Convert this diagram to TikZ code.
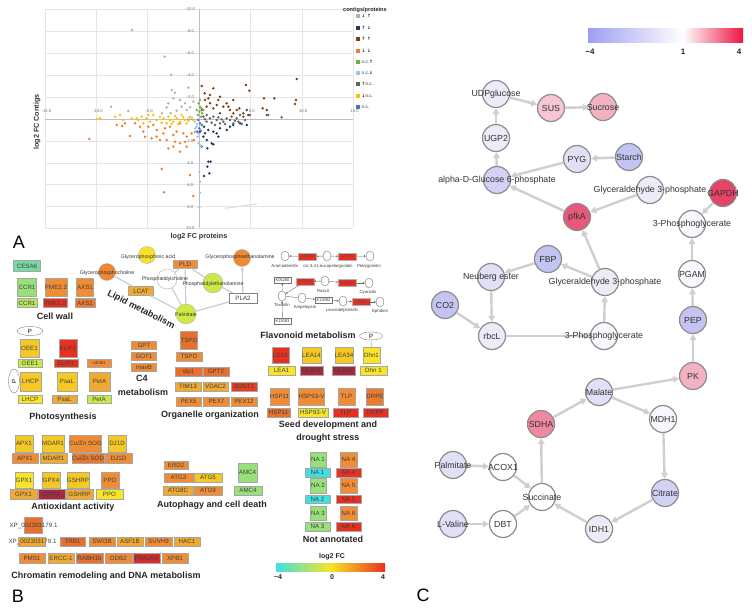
\documentclass[tikz,border=0pt]{standalone}
\usepackage{fontspec}
\setmainfont{Liberation Sans}
\newfontfamily\dvfont{DejaVu Sans}
\usetikzlibrary{arrows.meta,shapes.geometric}
\definecolor{cyanB}{HTML}{40E0E0}
\definecolor{lgreen}{HTML}{98E07A}
\definecolor{mint}{HTML}{78D8A0}
\definecolor{ygreen}{HTML}{C8EA48}
\definecolor{yel}{HTML}{F8E428}
\definecolor{gold}{HTML}{F6C824}
\definecolor{amber}{HTML}{F0AA30}
\definecolor{orng}{HTML}{F08C34}
\definecolor{dorng}{HTML}{E8702C}
\definecolor{redB}{HTML}{E83020}
\definecolor{crim}{HTML}{A82840}
\definecolor{sLgray}{HTML}{B0B0B0}
\definecolor{sNavy}{HTML}{1F3864}
\definecolor{sBrown}{HTML}{843C0C}
\definecolor{sOrange}{HTML}{ED7D31}
\definecolor{sGreen}{HTML}{70AD47}
\definecolor{sLblue}{HTML}{9DC3E6}
\definecolor{sDgray}{HTML}{636363}
\definecolor{sYellow}{HTML}{FFC000}
\definecolor{sBlue}{HTML}{4472C4}
\definecolor{cW}{HTML}{F7F7FD}
\definecolor{cLa}{HTML}{ECECF9}
\definecolor{cLb}{HTML}{E0E0F7}
\definecolor{cLc}{HTML}{D2D2F5}
\definecolor{cB}{HTML}{C4C4F2}
\definecolor{pinkA}{HTML}{F7C6D2}
\definecolor{pinkB}{HTML}{F2B2C2}
\definecolor{pinkC}{HTML}{F0899F}
\definecolor{redC}{HTML}{E8587A}
\definecolor{redD}{HTML}{E64466}
\definecolor{barBlue}{HTML}{9E9EF2}
\definecolor{barRed}{HTML}{EC1442}
\definecolor{edgeC}{HTML}{CFCFCF}
\newcommand\gb[7]{\node[gene,fill=#6,minimum width=#4pt,minimum height=#5pt] (#1) at (#2,#3) {#7};}
\newcommand\sdots[2]{\foreach \px/\py in {#2} {\fill[#1] (\px,\py) circle (1.35pt);}}
\begin{document}
\begin{tikzpicture}[x=1pt,y=-1pt,
  gene/.style={draw=black!35, line width=0.3pt, inner sep=0pt, font=\fontsize{6.2}{7}\selectfont, text=black!75},
  ttl/.style={font=\fontsize{9}{10}\selectfont\bfseries, text=black!85, inner sep=0pt},
  lip/.style={circle, draw=black!30, line width=0.4pt, minimum size=17pt, inner sep=0pt},
  liplbl/.style={font=\fontsize{5.2}{6}\selectfont, text=black!80, inner sep=0pt},
  lipedge/.style={draw=black!20, line width=1.2pt},
  fc/.style={ellipse, draw=black!55, line width=0.4pt, fill=white, minimum width=8pt, minimum height=10pt, inner sep=0pt},
  ldox/.style={fill=redB, draw=black!30, line width=0.3pt, minimum width=18pt, minimum height=7pt, inner sep=0pt, font=\fontsize{4.3}{5}\selectfont, text=black!70},
  kbox/.style={fill=white, draw=black!55, line width=0.3pt, minimum width=17pt, minimum height=6pt, inner sep=0pt, font=\fontsize{4}{5}\selectfont, text=black!80},
  flbl/.style={font=\fontsize{4.3}{5}\selectfont, text=black!75, inner sep=0pt},
  farr/.style={draw=black!60, line width=0.35pt, -{Stealth[length=2pt,width=2pt]}},
  cn/.style={circle, draw=black!45, line width=1.2pt, minimum size=27pt, inner sep=0pt},
  cl/.style={font=\fontsize{8.8}{10}\selectfont, text=black!80, inner sep=0pt},
  ce/.style={draw=edgeC, line width=2.4pt, -{Triangle[length=6pt,width=6.5pt]}},
  tick/.style={font=\fontsize{4.2}{5}\selectfont, text=black!55, inner sep=0pt},
  panel/.style={font=\fontsize{18}{20}\selectfont, inner sep=0pt}]
\useasboundingbox (0,0) rectangle (752,612);
\fill[white] (0,0) rectangle (752,612);

% ================= PANEL A =================
\begin{scope}[shift={(199,119)}, x=10.27pt, y=-10.95pt]
  \foreach \gx in {-15,-10,-5,5,10,15} \draw[black!10, line width=0.4pt] (\gx,-10) -- (\gx,10);
  \foreach \gy in {-10,-8,-6,-4,-2,2,4,6,8,10} \draw[black!10, line width=0.4pt] (-15,\gy) -- (15,\gy);
  \draw[black!25, line width=0.8pt] (-15,0) -- (15,0);
  \draw[black!25, line width=0.8pt] (0,-10) -- (0,10);
  \foreach \gx/\gl in {-15/-15.0,-10/-10.0,-5/-5.0,5/5.0,10/10.0,15/15.0} \node[tick] (xt\gx) at (\gx+0.15,-0.75) {\gl};
  \foreach \gy/\gl in {10/10.0,8/8.0,6/6.0,4/4.0,2/2.0,0/0.0,-2/-2.0,-4/-4.0,-6/-6.0,-8/-8.0,-10/-10.0} \node[tick] (yt\gy) at (-0.85,\gy) {\gl};
\end{scope}
\begin{scope}[x=0.33333pt, y=-0.33333pt]
  \draw[black!12, line width=1.2pt] (675,625) -- (770,612);
  \sdots{sLgray}{396/90,494/170,513/224,565/263,333/320,385/333,515/270,525/278,520/295,505/310,540/300,555/310,570/322,500/322,530/332,560/330,545/320,512/340,580/305,486/340}
  \sdots{sOrange}{268/417,367/378,390/408,420/380,435/410,455/415,470/390,490/400,500/420,510/380,530/395,540/430,520/440,560/410,575/400,585/395,560/440,540/455,485/507,492/577,570/525,580/588,540/370,460/375,430/395,480/420,505/445,550/400,405/370,445/380,520/405,555/425,582/420,470/410,525/425,495/385,350/375,375/370}
  \sdots{sYellow}{290/357,300/355,345/350,360/345,410/355,440/355,450/365,470/360,490/355,510/360,530/355,550/352,570/350,580/360,520/365,500/370,540/365,560/370,430/370,415/360,395/355,370/360,480/350,460/345,505/350,525/348,545/345,565/362,535/372,515/372,555/360,485/368,445/345,425/350}
  \sdots{sBrown}{605/258,614/280,640/265,660/290,700/300,738/255,748/272,792/295,823/295,788/325,800/330,885/312,888/300,890/237,615/300,630/310,650/315,670/320,690/330,710/330,730/340,640/325,620/320,680/310,605/330,660/340,700/340,745/345,630/285,625/295,685/320,718/325,740/330,655/300}
  \sdots{sNavy}{612/380,625/390,640/395,650/400,660/385,680/390,700/375,720/370,740/375,610/410,620/420,635/430,605/440,622/445,640/433,625/485,632/485,622/500,628/520,612/528,655/410,600/395,615/400,690/380}
  \sdots{sDgray}{610/350,630/355,650/360,670/365,690/360,710/355,730/350,720/345,680/355,640/350,620/365,660/370,800/345,805/345,845/352,700/370,620/345,750/345,615/358,635/368,655/352,675/372,695/350,715/365,735/360,645/375,665/358,705/362,725/372}
  \sdots{sGreen}{596/310,600/320,605/325,598/335,606/340,594/345,603/350,600/300,610/330,590/330}
  \sdots{sLblue}{585/365,590/380,588/395,595/400,592/372,596/430,600/436,598/515,600/545,600/578,598/622,603/440,586/385,593/410}
  \sdots{sBlue}{600/370,598/385,592/395,605/375,595/360,602/392}
\end{scope}
\node[font=\fontsize{7.2}{8}\selectfont\bfseries, text=black!80, inner sep=0pt] (xtitle) at (199,237) {log2 FC proteins};
\node[font=\fontsize{7.2}{8}\selectfont\bfseries, text=black!80, inner sep=0pt, rotate=90] (ytitle) at (37,122) {log2 FC Contigs};
\node[font=\fontsize{5.6}{6}\selectfont\bfseries, text=black!85, inner sep=0pt, anchor=west] (legt) at (343,10) {contigs/proteins};
\foreach \ly/\lc/\lt [count=\li] in {16/sLgray/{\dvfont\bfseries↓ ↑},28/sNavy/{\dvfont\bfseries↑ ↓},39/sBrown/{\dvfont\bfseries↑ ↑},51/sOrange/{\dvfont\bfseries↓ ↓},62/sGreen/{n.c.\dvfont\bfseries↑},73/sLblue/{n.c.\dvfont\bfseries↓},84/sDgray/{\dvfont\bfseries↑\rmfamily\mdseries n.c.},96/sYellow/{\dvfont\bfseries↓\rmfamily\mdseries n.c.},107/sBlue/{n.c.}} {
  \fill[\lc] (356.3,\ly-1.7) rectangle (359.7,\ly+1.7);
  \node[font=\fontsize{4.6}{5}\selectfont, text=black!85, inner sep=0pt, anchor=west] (leg\li) at (361.5,\ly) {\lt};
}
\node[panel] (pA) at (19,242) {A};

% ================= PANEL B =================
% Cell wall
\gb{cesa}{27}{266}{27}{11}{mint}{CESA6}
\gb{ccrP}{27}{287}{19}{18}{lgreen}{CCR1}
\gb{ccrT}{27}{303}{20}{9}{ygreen!60!lgreen}{CCR1}
\gb{pmeP}{56}{287}{18}{18}{orng}{PME2.2}
\gb{pmeT}{55}{303}{24}{9}{redB}{PME2.2}
\gb{axsP}{85}{287}{17}{18}{orng}{AXS1}
\gb{axsT}{85}{303}{20}{9}{dorng!60!orng}{AXS1}
\node[ttl] (tCell) at (55,316) {Cell wall};
% Photosynthesis
\node[ellipse, draw=black!50, line width=0.4pt, fill=white, minimum width=26pt, minimum height=9pt, inner sep=0pt, font=\fontsize{6}{7}\selectfont] (pOEE) at (30,331) {P};
\gb{oeeP}{29.5}{348}{19}{18}{gold}{OEE1}
\gb{oeeT}{30}{363}{24}{8}{ygreen}{OEE1}
\gb{elipP}{68}{348}{18}{18}{redB}{ELIP1}
\gb{elipT}{66}{363}{24}{8}{redB}{ELIP1}
\gb{ndhT}{99}{363}{24}{8}{orng}{\fontsize{4.5}{5}\selectfont ndhB1}
\node[ellipse, draw=black!50, line width=0.4pt, fill=white, minimum width=24pt, minimum height=11pt, inner sep=0pt, rotate=90, font=\fontsize{6}{7}\selectfont] (pLHCP) at (14,381) {P};
\gb{lhcpP}{30.5}{381.5}{21}{19}{gold}{LHCP}
\gb{lhcpT}{30}{399}{24}{8}{yel}{LHCP}
\gb{psalP}{67}{381.5}{20}{19}{gold}{PsaL}
\gb{psalT}{64.5}{399}{25}{8}{amber}{PsaL}
\gb{petaP}{99.5}{381.5}{21}{19}{amber}{PetA}
\gb{petaT}{99}{399}{24}{8}{ygreen}{PetA}
\node[ttl] (tPhoto) at (63,417) {Photosynthesis};
% C4
\gb{gpt}{144}{345}{25}{8}{orng}{GPT}
\gb{got}{144}{356}{25}{8}{orng}{GOT1}
\gb{maeb}{144}{367}{25}{8}{orng}{maeB}
\node[ttl] (tC4a) at (142,378) {C4};
\node[ttl] (tC4b) at (143,392) {metabolism};
% Organelle
\gb{tspoP}{189}{340}{16}{18}{dorng}{TSPO}
\gb{tspoT}{189}{356.5}{26}{9}{orng}{TSPO}
\gb{slp}{188.5}{371.5}{27}{9}{dorng}{slp1}
\gb{gpt2}{216}{371.5}{26}{9}{dorng}{GPT2}
\gb{tim}{188}{386.5}{26}{9}{amber}{TIM13}
\gb{vdac}{215.5}{386.5}{25}{9}{amber}{VDAC2}
\gb{adnt}{244}{386.5}{26}{9}{redB!80!dorng}{ADNT1}
\gb{pexa}{188.5}{401.5}{25}{9}{orng}{PEX5}
\gb{pexb}{216.5}{401.5}{26}{9}{orng}{PEX7}
\gb{pexc}{244}{401.5}{26}{9}{orng}{PEX12}
\node[ttl] (tOrg) at (210,415) {Organelle organization};
% Lipid metabolism
\node[lip, fill=yel!90!gold] (gpa) at (147,255) {};
\node[lip, fill=orng!90!dorng] (gpe) at (242,258) {};
\node[lip, fill=orng!80!dorng] (gpc) at (107,272) {};
\node[lip, fill=white, minimum size=20pt] (pc) at (167,279) {};
\node[lip, fill=ygreen, minimum size=20pt] (pe) at (213,283) {};
\node[lip, fill=ygreen!85!yel, minimum size=20pt] (palm) at (186,314) {};
\node[gene, fill=orng, minimum width=24pt, minimum height=8pt] (pld) at (185,264) {PLD};
\node[gene, fill=amber, minimum width=25pt, minimum height=9pt] (lcat) at (141,291) {LCAT};
\node[gene, fill=white, draw=black!50, minimum width=28pt, minimum height=10pt] (pla) at (243,298) {PLA2};
\begin{scope}[on background layer/.style={}]
\end{scope}
\draw[lipedge] (gpc) -- (lcat);
\draw[lipedge] (lcat) -- (palm);
\draw[lipedge] (pc) -- (palm);
\draw[lipedge] (pld) -- (palm);
\draw[lipedge] (pld) -- (pe);
\draw[lipedge] (pld) -- (pc);
\draw[lipedge] (pla) -- (pe);
\draw[lipedge] (pla) -- (palm);
\draw[lipedge, -{Triangle[length=3.5pt,width=3.5pt]}] (pla) -- (gpe);
\node[liplbl] (lgpa) at (148,257) {Glycerophosphoric acid};
\node[liplbl] (lgpe) at (240,257) {Glycerophosphoethanolamine};
\node[liplbl] (lgpc) at (107,273) {Glycerophosphocholine};
\node[liplbl] (lpc) at (165,279) {Phosphatidylcholine};
\node[liplbl] (lpe) at (213,284.5) {Phosphatidylethanolamine};
\node[liplbl] (lpalm) at (186,315) {Palmitate};
\node[font=\fontsize{9}{10}\selectfont\bfseries, text=black!85, inner sep=0pt, rotate=-27] (tLipid) at (141,310) {Lipid metabolism};
% Flavonoid metabolism
\node[fc] (f1) at (285,256) {};
\node[ldox] (fl1) at (307.5,256.5) {LDOX};
\node[fc] (f2) at (327,256) {};
\node[ldox] (fl2) at (347.5,256.5) {LDOX};
\node[fc] (f3) at (370,256) {};
\draw[farr] (fl1) -- (f1);
\draw[farr] (f2) -- (fl1);
\draw[farr] (f2) -- (fl2);
\draw[farr] (fl2) -- (f3);
\node[flbl] (lf1) at (285,266) {Aromadendrin};
\node[flbl] (lf2) at (328,266) {cis-3,4-Leucopelargonidin};
\node[flbl] (lf3) at (369,266) {Pelargonidin};
\node[kbox] (k1) at (282.5,280) {K05280};
\node[ldox] (fl3) at (305,281.5) {LDOX};
\node[fc] (f4) at (325,281) {};
\node[ldox] (fl4) at (347.5,283) {LDOX};
\node[fc] (f5) at (369,283) {};
\node[fc] (ftax) at (282,296) {};
\node[fc] (famp) at (302,298) {};
\node[kbox] (k2) at (323.5,300) {K13082};
\node[fc] (f6) at (343,301) {};
\node[ldox] (fl5) at (361,302) {LDOX};
\node[fc] (f7) at (380,302) {};
\node[kbox] (k3) at (282.5,321) {K13083};
\draw[farr] (fl3) -- (ftax);
\draw[farr] (f4) -- (fl3);
\draw[farr] (f4) -- (fl4);
\draw[farr] (fl4) -- (f5);
\draw[farr] (ftax) -- (k1);
\draw[farr] (k3) -- (ftax);
\draw[draw=black!60, line width=0.35pt] (ftax) -- (famp);
\draw[farr] (famp) -- (k2);
\draw[farr] (k2) -- (f6);
\draw[farr] (f6) -- (fl5);
\draw[farr] (fl5) -- (f7);
\node[flbl] (lf4) at (323,291) {Rasvit};
\node[flbl] (lf5) at (368,292) {Cyanidin};
\node[flbl] (lf6) at (282,305) {Taxifolin};
\node[flbl] (lf7) at (305,307) {Ampelopsin};
\node[flbl] (lf8) at (342,310) {Leucodelphinidin};
\node[flbl] (lf9) at (380,311) {Ephdine};
\node[ttl] (tFlav) at (308,335) {Flavonoid metabolism};
\node[ellipse, draw=black!50, line width=0.4pt, fill=white, minimum width=23pt, minimum height=8pt, inner sep=0pt, font=\fontsize{6}{7}\selectfont] (pDhn) at (371,336) {P};
% Seed development
\gb{lea1P}{280.5}{355}{17}{16}{redB}{LEA1}
\gb{lea1T}{281.5}{370.5}{27}{9}{yel}{LEA1}
\gb{lea14P}{311.5}{355}{17}{16}{gold}{LEA14}
\gb{lea14T}{311.5}{370.5}{23}{9}{crim}{LEA14}
\gb{lea34P}{344}{355}{18}{16}{gold}{LEA34}
\gb{lea34T}{343.5}{370.5}{23}{9}{crim}{LEA34}
\gb{dhnP}{371.5}{355}{17}{16}{yel}{Dhn1}
\gb{dhnT}{373.5}{370.5}{27}{9}{yel}{Dhn 1}
\draw[black!30, line width=0.6pt] (pDhn) -- (dhnP);
\gb{hspP}{279.5}{396.5}{19}{17}{orng}{HSP11}
\gb{hspT}{278.5}{412.5}{23}{9}{dorng}{HSP11}
\gb{hsp93P}{311.5}{396.5}{17}{17}{orng}{HSP93-V}
\gb{hsp93T}{313}{412.5}{30}{9}{yel}{HSP93-V}
\gb{tlpP}{346.5}{396.5}{17}{17}{orng}{TLP}
\gb{tlpT}{345.5}{412.5}{25}{9}{redB}{TLP}
\gb{drpeP}{375}{396.5}{16}{17}{dorng!60!orng}{DRPE}
\gb{drpeT}{375.5}{412.5}{25}{9}{redB}{DRPE}
\node[ttl] (tSeedA) at (328,425) {Seed development and};
\node[ttl] (tSeedB) at (328,438) {drought stress};
% Antioxidant
\gb{apxP}{24}{443.5}{18}{17}{gold}{APX1}
\gb{apxT}{25}{458}{26}{10}{orng}{APX1}
\gb{mdarP}{53}{443.5}{18}{17}{gold}{MDAR1}
\gb{mdarT}{53.5}{458}{27}{10}{amber}{MDAR1}
\gb{sodP}{85.5}{443.5}{17}{17}{orng}{Cu/Zn SOD}
\gb{sodT}{88}{458}{30}{10}{dorng!70!orng}{Cu/Zn SOD}
\gb{djP}{117}{443.5}{18}{17}{gold}{DJ1D}
\gb{djT}{118.5}{458}{27}{10}{orng}{DJ1D}
\gb{gpx1P}{24}{480}{18}{16}{yel}{GPX1}
\gb{gpx1T}{23.5}{494}{27}{10}{amber}{GPX1}
\gb{gpx4P}{51}{480}{18}{16}{gold}{GPX4}
\gb{gpx4T}{51.5}{494}{27}{10}{crim}{GPX4}
\gb{gshP}{78}{480}{18}{16}{gold}{GSHRP}
\gb{gshT}{79.5}{494}{27}{10}{amber}{GSHRP}
\gb{ppoP}{110}{480}{18}{16}{orng}{PPO}
\gb{ppoT}{109.5}{494}{27}{10}{yel}{PPO}
\node[ttl] (tAnti) at (73,507) {Antioxidant activity};
% Autophagy
\gb{erd}{176}{465}{24}{8}{orng}{ERD2}
\gb{atg3}{178.5}{477.5}{29}{9}{orng}{ATG3}
\gb{atg5}{208}{477.5}{28}{9}{gold}{ATG5}
\gb{atg8}{178}{490.5}{30}{9}{amber}{ATG8C}
\gb{atg9}{208}{490.5}{28}{9}{orng}{ATG9}
\gb{amcP}{247.5}{472.5}{19}{19}{lgreen}{AMC4}
\gb{amcT}{248}{490.5}{28}{9}{lgreen}{AMC4}
\node[ttl] (tAuto) at (212,505) {Autophagy and cell death};
% Not annotated
\gb{na1P}{318}{459.5}{16}{15}{lgreen}{NA 1}
\gb{na1T}{317.5}{472.5}{25}{9}{cyanB}{NA 1}
\gb{na4P}{348.5}{459.5}{17}{15}{orng}{NA 4}
\gb{na4T}{348.5}{472.5}{25}{9}{redB}{NA 4}
\gb{na2P}{318}{485.5}{16}{15}{lgreen}{NA 2}
\gb{na2T}{317.5}{499.5}{25}{8}{cyanB}{NA 2}
\gb{na5P}{348.5}{485.5}{17}{15}{orng}{NA 5}
\gb{na5T}{348.5}{499.5}{25}{8}{redB}{NA 5}
\gb{na3P}{318}{513}{16}{14}{lgreen}{NA 3}
\gb{na3T}{317.5}{526.5}{25}{9}{lgreen}{NA 3}
\gb{na6P}{348.5}{513}{17}{14}{orng}{NA 6}
\gb{na6T}{348.5}{526.5}{25}{9}{redB}{NA 6}
\node[ttl] (tNA) at (333,539) {Not annotated};
% Chromatin
\gb{xpP}{33}{525}{18}{16}{dorng}{}
\gb{xpT}{31.5}{541.5}{27}{9}{amber}{}
\node[font=\fontsize{6.2}{7}\selectfont, text=black!75, inner sep=0pt] (xpPl) at (33.5,526) {XP\_002303179.1};
\node[font=\fontsize{6.2}{7}\selectfont, text=black!75, inner sep=0pt] (xpTl) at (32.5,542) {XP\_002303179.1};
\gb{trb}{72.5}{541.5}{25}{9}{dorng}{TRB1}
\gb{swi}{102}{541.5}{26}{9}{orng}{SWI3B}
\gb{asf}{130}{541.5}{26}{9}{amber}{ASF1B}
\gb{suvh}{158.5}{541.5}{27}{9}{orng}{SUVH9}
\gb{hac}{187}{541.5}{26}{9}{amber}{HAC1}
\gb{pms}{32}{558}{26}{10}{orng}{PMS1}
\gb{ercc}{61}{558}{26}{10}{amber}{ERCC-1}
\gb{rabh}{89.5}{558}{27}{10}{dorng}{RABH1b}
\gb{ddb}{118.5}{558}{27}{10}{orng}{DDB2}
\gb{pra}{146.5}{558}{27}{10}{redB!70!crim}{PRA1B4}
\gb{xpb}{175}{558}{26}{10}{orng}{XPB1}
\node[ttl] (tChrom) at (106,576) {Chromatin remodeling and DNA metabolism};
% colour bar B
\shade[left color=cyanB, right color=redB, middle color=yel] (276,563) rectangle (385,571);
\node[font=\fontsize{7}{8}\selectfont\bfseries, text=black!85, inner sep=0pt] (cbBt) at (332,557) {log2 FC};
\node[font=\fontsize{7}{8}\selectfont\bfseries, text=black!85, inner sep=0pt] (cbB1) at (278,577) {−4};
\node[font=\fontsize{7}{8}\selectfont\bfseries, text=black!85, inner sep=0pt] (cbB2) at (332,577) {0};
\node[font=\fontsize{7}{8}\selectfont\bfseries, text=black!85, inner sep=0pt] (cbB3) at (383,577) {4};
\node[panel] (pB) at (18,596) {B};

% ================= PANEL C =================
\shade[left color=barBlue, right color=white] (588,29) rectangle (683,43);
\shade[left color=white, right color=barRed] (683,29) rectangle (743,43);
\node[font=\fontsize{8}{9}\selectfont\bfseries, text=black!85, inner sep=0pt] (cbC1) at (590,52) {−4};
\node[font=\fontsize{8}{9}\selectfont\bfseries, text=black!85, inner sep=0pt] (cbC2) at (683,52) {1};
\node[font=\fontsize{8}{9}\selectfont\bfseries, text=black!85, inner sep=0pt] (cbC3) at (739,52) {4};
\foreach \nn/\nx/\ny/\nc in {udp/496/94/cLa, sus/551/108/pinkA, sucr/603/107/pinkB, ugp/496/138/cLa, pyg/577/159/cLb, starch/629/157/cB, agl/497/180/cLc, gapu/650/190/cLa, gapdh/723/193/redD, pfka/577/217/redC, pgu/692/224/cW, fbp/548/259/cB, neub/491/277/cLb, gapl/605/282/cLa, pgam/692/274/cW, cotwo/445/305/cB, rbcl/492/336/cLa, pgl/604/336/cW, pep/693/320/cB, pk/693/376/pinkB, mal/599/392/cLb, sdha/541/424/pinkC, mdh/663/419/cW, palc/453/465/cLb, acox/503/467/white, cit/665/493/cLc, succ/542/497/white, lval/453/524/cLb, dbt/503/524/white, idh/599/529/cLa} {
  \node[cn, fill=\nc] (\nn) at (\nx,\ny) {};
}
\draw[ce] (udp) -- (sus);
\draw[ce] (sus) -- (sucr);
\draw[ce] (ugp) -- (udp);
\draw[ce] (agl) -- (ugp);
\draw[ce] (starch) -- (pyg);
\draw[ce] (pyg) -- (agl);
\draw[ce] (pfka) -- (agl);
\draw[ce] (gapu) -- (pfka);
\draw[ce] (gapdh) -- (pgu);
\draw[ce] (pgam) -- (pgu);
\draw[ce] (gapl) -- (pfka);
\draw[ce] (gapl) -- (fbp);
\draw[ce] (fbp) -- (neub);
\draw[ce] (neub) -- (rbcl);
\draw[ce] (cotwo) -- (rbcl);
\draw[ce] (rbcl) -- (pgl);
\draw[ce] (pgl) -- (gapl);
\draw[ce] (pep) -- (pgam);
\draw[ce] (pk) -- (pep);
\draw[ce] (mal) -- (pk);
\draw[ce] (mal) -- (mdh);
\draw[ce] (sdha) -- (mal);
\draw[ce] (mdh) -- (cit);
\draw[ce] (cit) -- (idh);
\draw[ce] (idh) -- (succ);
\draw[ce] (succ) -- (sdha);
\draw[ce] (palc) -- (acox);
\draw[ce] (acox) -- (succ);
\draw[ce] (lval) -- (dbt);
\draw[ce] (dbt) -- (succ);
\foreach \nn/\nt in {udp/UDPglucose, sus/SUS, sucr/Sucrose, ugp/UGP2, pyg/PYG, starch/Starch, agl/alpha-D-Glucose 6-phosphate, gapu/Glyceraldehyde 3-phosphate, gapdh/GAPDH, pfka/pfkA, pgu/3-Phosphoglycerate, fbp/FBP, neub/Neuberg ester, gapl/Glyceraldehyde 3-phosphate, pgam/PGAM, cotwo/CO2, rbcl/rbcL, pgl/3-Phosphoglycerate, pep/PEP, pk/PK, mal/Malate, sdha/SDHA, mdh/MDH1, palc/Palmitate, acox/ACOX1, cit/Citrate, succ/Succinate, lval/L-Valine, dbt/DBT, idh/IDH1} {
  \node[cl] (l\nn) at (\nn) {\nt};
}
\node[panel] (pC) at (423,595) {C};
\end{tikzpicture}
\end{document}
